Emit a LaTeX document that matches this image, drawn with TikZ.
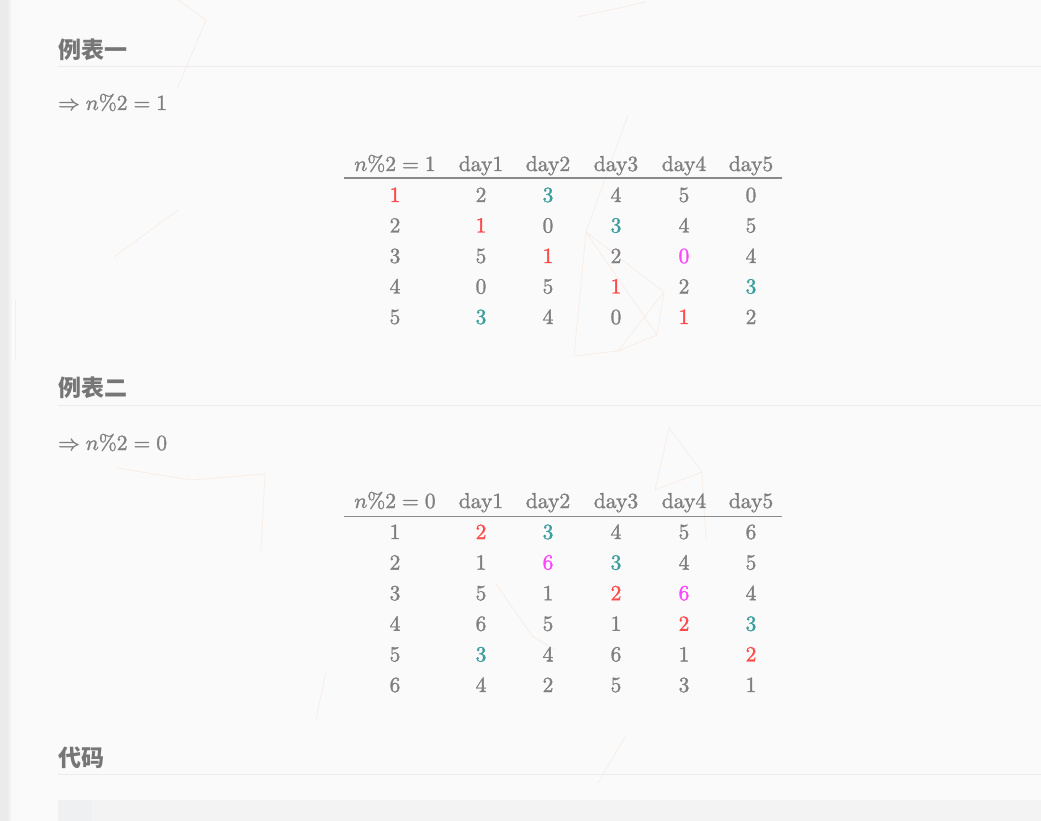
\documentclass[tikz,border=0pt]{standalone}
\usepackage{fontspec}
\setmainfont{lmroman10-regular.otf}[ItalicFont=lmroman10-italic.otf,BoldFont=lmroman10-bold.otf]
\DeclareFontShape{OML}{cmm}{m}{it}{<->cmmi10}{}
\DeclareFontShape{OMS}{cmsy}{m}{n}{<->cmsy10}{}
\DeclareFontShape{OT1}{cmr}{m}{n}{<->cmr10}{}
\newfontfamily\cjk{Noto Sans CJK SC}
\newcommand\tabfont{\fontsize{21.6}{26}\selectfont}
\newcommand\heavy[1]{\special{pdf:literal direct 2 Tr 0.3 w}#1\special{pdf:literal direct 0 Tr}}
\definecolor{bg}{HTML}{FAFAFA}
\definecolor{strip}{HTML}{EBEBEB}
\definecolor{txt}{HTML}{7F7F7F}
\definecolor{headc}{HTML}{767676}
\definecolor{uline}{HTML}{ECECEC}
\definecolor{rulec}{HTML}{8A8A8A}
\definecolor{cR}{HTML}{FF4A4A}
\definecolor{cG}{HTML}{7F7F7F}
\definecolor{cT}{HTML}{3A9D9D}
\definecolor{cM}{HTML}{FF44FF}
\definecolor{codebg}{HTML}{F3F3F3}
\definecolor{gutter}{HTML}{EFF0F2}
\definecolor{part}{HTML}{F8EDE5}
\tikzset{
  head/.style={anchor=base west, inner sep=0, text=headc, font=\cjk\bfseries\fontsize{23}{28}\selectfont},
  mathl/.style={anchor=base west, inner sep=0, text=txt, font=\tabfont},
  cell/.style={anchor=base, inner sep=0, text=txt, font=\tabfont},
  uln/.style={draw=uline, line width=1pt},
  rulel/.style={draw=rulec, line width=1.6pt},
  partl/.style={draw=part, line width=0.7pt}
}
\begin{document}
\begin{tikzpicture}[x=1pt,y=-1pt]
\useasboundingbox (0,0) rectangle (1041,821);
\fill[bg] (0,0) rectangle (1041,821);
\fill[strip] (0,0) rectangle (8,821);
\shade[left color=strip!80!bg, right color=bg] (8,0) rectangle (12,821);
% faint background particles
\draw[partl] (178,0) -- (206,20) -- (178,87);
\draw[partl] (577,17) -- (646,2);
\draw[partl] (114,257) -- (178,210);
\draw[partl] (628,115) -- (586,232) -- (664,292) -- (618,351) -- (574,356) -- (586,232);
\draw[partl] (664,292) -- (657,335) -- (618,351);
\draw[partl] (586,232) -- (657,335);
\draw[partl] (669,428) -- (702,472) -- (655,490) -- (669,428);
\draw[partl] (702,472) -- (706,540);
\draw[partl] (117,468) -- (191,480) -- (265,474) -- (261,551);
\draw[partl] (496,584) -- (533,637) -- (556,650);
\draw[partl] (326,672) -- (316,719);
\draw[partl] (625,737) -- (598,783);
\draw[partl] (238,813) -- (200,821);
\draw[partl] (15,300) -- (15,360);
% headings
\node[head] (h1) at (58,58.5) {例表一};
\coordinate (u1a) at (58,66.5); \coordinate (u1b) at (1041,66.5);
\draw[uln] (u1a) -- (u1b);
\node[mathl] (m1) at (58,110) {\heavy{$\Rightarrow n\%2=1$}};
\node[head] (h2) at (58,396.5) {例表二};
\coordinate (u2a) at (58,405.5); \coordinate (u2b) at (1041,405.5);
\draw[uln] (u2a) -- (u2b);
\node[mathl] (m2) at (58,450) {\heavy{$\Rightarrow n\%2=0$}};
\node[head] (h3) at (58,766) {代码};
\coordinate (u3a) at (58,774.5); \coordinate (u3b) at (1041,774.5);
\draw[uln] (u3a) -- (u3b);
% code block
\fill[codebg] (58,800) rectangle (1041,821);
\fill[gutter] (58,800) rectangle (92,821);
% table 1 header
\node[cell] (t1h0) at (395,171) {\heavy{$n\%2=1$}};
\foreach \k/\x in {1/481,2/548,3/616,4/684,5/751}
  \node[cell] (t1h\k) at (\x,171) {\heavy{day\k}};
\coordinate (t1l) at (344,178.3); \coordinate (t1r) at (782,178.3);
\draw[rulel] (t1l) -- (t1r);
\foreach \row [count=\r] in {
  {1/R,2/G,3/T,4/G,5/G,0/G},
  {2/G,1/R,0/G,3/T,4/G,5/G},
  {3/G,5/G,1/R,2/G,0/M,4/G},
  {4/G,0/G,5/G,1/R,2/G,3/T},
  {5/G,3/T,4/G,0/G,1/R,2/G}} {
  \foreach \v/\c [count=\k] in \row {
    \pgfmathsetmacro\cx{{395,481,548,616,684,751}[\k-1]}
    \pgfmathsetmacro\cy{202+(\r-1)*30.5}
    \node[cell,text=c\c] (a-\r-\k) at (\cx,\cy) {\heavy{\v}};
  }
}
% table 2 header
\node[cell] (t2h0) at (395,508) {\heavy{$n\%2=0$}};
\foreach \k/\x in {1/481,2/548,3/616,4/684,5/751}
  \node[cell] (t2h\k) at (\x,508) {\heavy{day\k}};
\coordinate (t2l) at (344,516.3); \coordinate (t2r) at (782,516.3);
\draw[rulel] (t2l) -- (t2r);
\foreach \row [count=\r] in {
  {1/G,2/R,3/T,4/G,5/G,6/G},
  {2/G,1/G,6/M,3/T,4/G,5/G},
  {3/G,5/G,1/G,2/R,6/M,4/G},
  {4/G,6/G,5/G,1/G,2/R,3/T},
  {5/G,3/T,4/G,6/G,1/G,2/R},
  {6/G,4/G,2/G,5/G,3/G,1/G}} {
  \foreach \v/\c [count=\k] in \row {
    \pgfmathsetmacro\cx{{395,481,548,616,684,751}[\k-1]}
    \pgfmathsetmacro\cy{539+(\r-1)*30.6}
    \node[cell,text=c\c] (b-\r-\k) at (\cx,\cy) {\heavy{\v}};
  }
}
\end{tikzpicture}
\end{document}
